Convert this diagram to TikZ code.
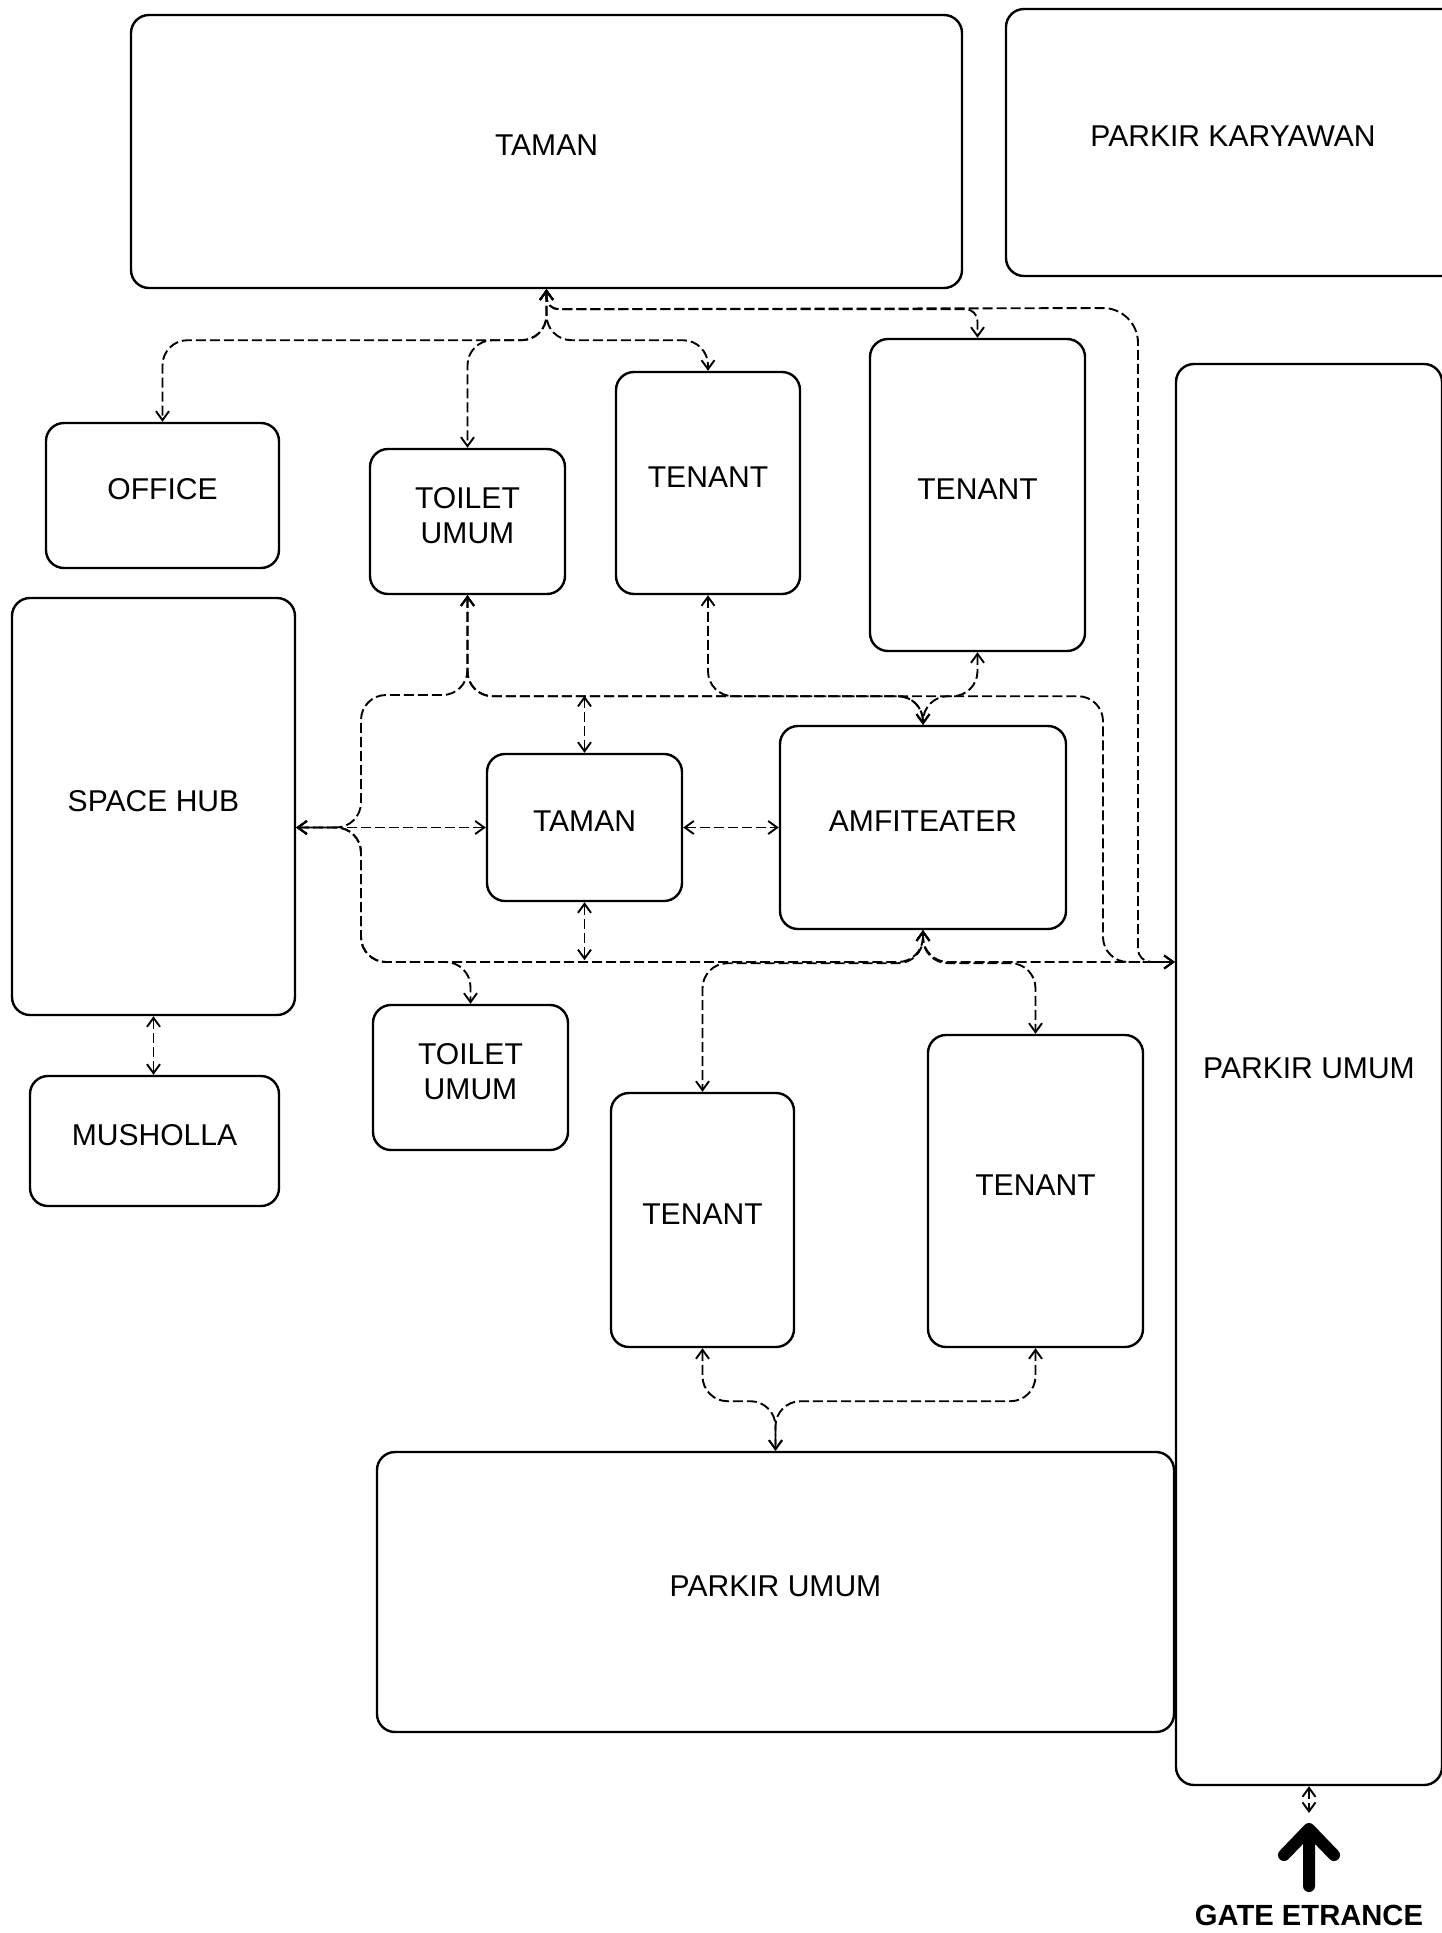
\documentclass[tikz,border=0pt]{standalone}
\usepackage{fontspec}
\setmainfont{Liberation Sans}
\usetikzlibrary{arrows.meta}
\newcommand\roomfont{\fontsize{8.55}{9.7}\selectfont}

\begin{document}
\begin{tikzpicture}[x=0.01cm,y=-0.01cm,>={Straight Barb[length=0.09cm,width=0.13cm]},
    room/.style={draw,line width=0.024cm,rounded corners=0.18cm,align=center,inner sep=0pt,text depth=0.12cm,font=\roomfont},
    roomsize/.style 2 args={minimum width=#1*0.01cm,minimum height=#2*0.01cm},
    link/.style={<->,line width=0.019cm,dash pattern=on 0.1cm off 0.04cm,rounded corners=0.25cm}]
\useasboundingbox (0,0) rectangle (1441,1933);

% ruang
\node[room,roomsize={831}{273}] (tamanA) at (546.5,151.5) {TAMAN};
\node[room,roomsize={454}{267}] (karyawan) at (1233,142.5) {PARKIR KARYAWAN};
\node[room,roomsize={233}{145}] (office) at (162.5,495.5) {OFFICE};
\node[room,roomsize={195}{145}] (toiletA) at (467.5,521.5) {TOILET\\UMUM};
\node[room,roomsize={184}{222}] (tenantA) at (708,483) {TENANT};
\node[room,roomsize={215}{312}] (tenantB) at (977.5,495) {TENANT};
\node[room,roomsize={266}{1421}] (parkirA) at (1309,1074.5) {PARKIR UMUM};
\node[room,roomsize={283}{417}] (spacehub) at (153.5,806.5) {SPACE HUB};
\node[room,roomsize={195}{147}] (tamanB) at (584.5,827.5) {TAMAN};
\node[room,roomsize={286}{203}] (amfi) at (923,827.5) {AMFITEATER};
\node[room,roomsize={195}{145}] (toiletB) at (470.5,1077.5) {TOILET\\UMUM};
\node[room,roomsize={249}{130}] (musholla) at (154.5,1141) {MUSHOLLA};
\node[room,roomsize={183}{254}] (tenantC) at (702.5,1220) {TENANT};
\node[room,roomsize={215}{312}] (tenantD) at (1035.5,1191) {TENANT};
\node[room,roomsize={797}{280}] (parkirB) at (775.5,1592) {PARKIR UMUM};

\coordinate (lvD) at (0,962);
\coordinate (gate) at (1309,1813);

% dari taman atas
\draw[link] (tamanA.south) -- ++(0,51) -| (office.north);
\draw[link] (tamanA.south) -- ++(0,51) -| (toiletA.north);
\draw[link] (tamanA.south) -- ++(0,51) -| (tenantA.north);
\draw[link,rounded corners=0.12cm] (tamanA.south) -- ++(0,20) -| (tenantB.north);
\draw[link,rounded corners=0.12cm] (tamanA.south) -- ++(0,20) [rounded corners=0.35cm] -- (1138,308) [rounded corners=0.13cm] -- (1138,962) -- (parkirA.west |- lvD);

% baris tengah atas
\draw[link] (toiletA.south) |- (361,695) |- (tamanB.west -| spacehub.east);
\draw[link] (toiletA.south) -- ++(0,101) -| (amfi.north);
\draw[link] (tenantA.south) -- ++(0,101) -| (amfi.north);
\draw[link] (tenantB.south) -- ++(0,44) -| (amfi.north);
\draw[link] (toiletA.south) -- ++(0,101) -| (1103,962) -- (parkirA.west |- lvD);

% sekitar taman tengah
\draw[link] (tamanB.west) -- (tamanB.west -| spacehub.east);
\draw[link] (tamanB.east) -- (amfi.west);
\draw[link] (tamanB.north) -- ++(0,-57);
\draw[link] (tamanB.south) -- ++(0,58);
\draw[link] (tamanB.west -| spacehub.east) -| (361,962) -| (toiletB.north);
\draw[link] (tamanB.west -| spacehub.east) -| (361,962) -| (amfi.south);
\draw[link] (spacehub.south) -- (spacehub.south |- musholla.north);

% dari amfiteater
\draw[link] (amfi.south) -- ++(0,33) -| (tenantC.north);
\draw[link] (amfi.south) -- ++(0,33) -| (tenantD.north);
\draw[link] (amfi.south) |- (parkirA.west |- lvD);

% ke parkir bawah
\draw[link] (tenantC.south) -- ++(0,53) -| (parkirB.north);
\draw[link] (tenantD.south) -- ++(0,53) -| (parkirB.north);

% gerbang
\draw[link] (parkirA.south) -- (gate);
\draw[line width=0.12cm,line cap=round,line join=round] (1309,1886) -- (1309,1829) (1284,1855) -- (1309,1829) -- (1334,1855);
\node[font=\bfseries\fontsize{8.3}{9}\selectfont,anchor=base] (gatelabel) at (1309,1925) {GATE ETRANCE};
\end{tikzpicture}
\end{document}
